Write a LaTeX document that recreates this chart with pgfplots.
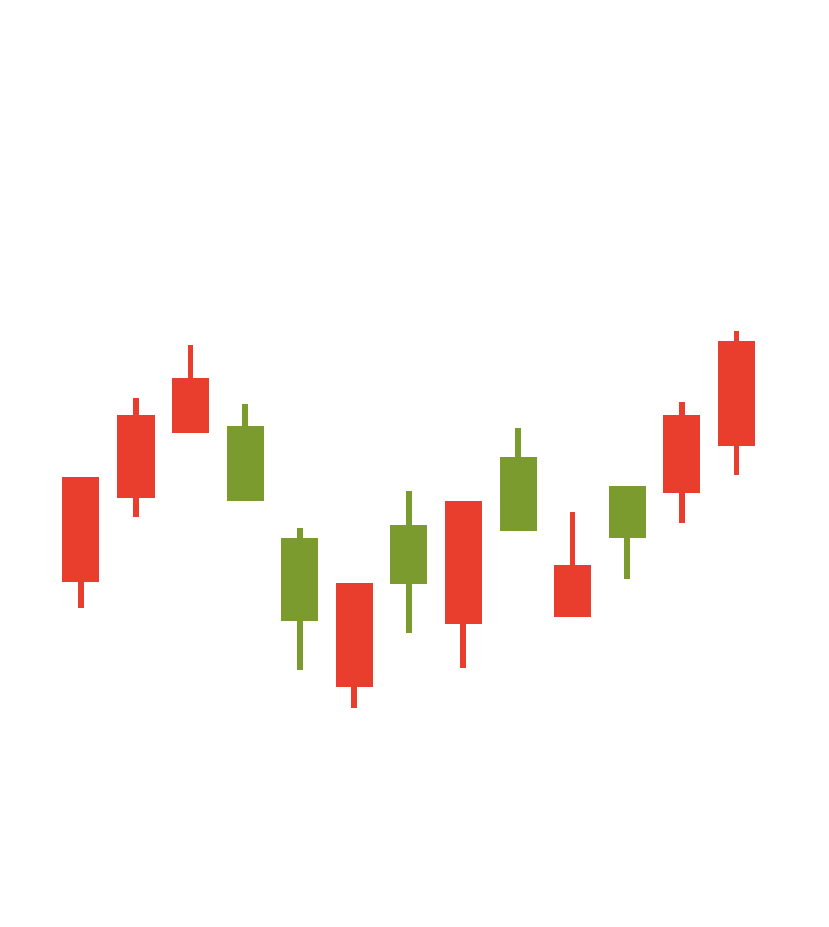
\documentclass[border=0pt]{standalone}
\usepackage{pgfplots}
\pgfplotsset{compat=1.18}
\definecolor{candlered}{HTML}{E93D2E}
\definecolor{candlegreen}{HTML}{7B9B2F}
\begin{document}
% candle positions in picture pixels (y measured downward)
\begin{tikzpicture}
\begin{axis}[
  width=8.28cm, height=9.27cm, scale only axis,
  xmin=0, xmax=828, ymin=0, ymax=927,
  y dir=reverse,
  hide axis, clip=false,
  unbounded coords=jump,
]
% wicks (high to low)
\addplot[candlered, line width=1.62pt, mark=none] table {
x y
80.8 476.7
80.8 608.3
nan nan
136 398.3
136 516.7
nan nan
190.5 345
190.5 433.3
nan nan
354.3 582.7
354.3 708.3
nan nan
463.3 501
463.3 668.3
nan nan
572.5 511.7
572.5 617.3
nan nan
681.8 402.3
681.8 522.7
nan nan
736.5 330.7
736.5 475
};
\addplot[candlegreen, line width=1.62pt, mark=none] table {
x y
245 404.3
245 501.3
nan nan
299.7 528.3
299.7 670
nan nan
408.8 491
408.8 633.3
nan nan
518 428.3
518 531
nan nan
627.3 486
627.3 579.3
};
% bodies (open/close)
\addplot[candlered, line width=10.53pt, mark=none] table {
x y
80.8 476.7
80.8 582.3
nan nan
136 415
136 498.3
nan nan
190.5 377.7
190.5 433.3
nan nan
354.3 582.7
354.3 687.3
nan nan
463.3 501
463.3 623.7
nan nan
572.5 565.3
572.5 617.3
nan nan
681.8 415
681.8 493.3
nan nan
736.5 340.7
736.5 445.7
};
\addplot[candlegreen, line width=10.53pt, mark=none] table {
x y
245 426.3
245 501.3
nan nan
299.7 538.5
299.7 620.7
nan nan
408.8 525.3
408.8 583.7
nan nan
518 457.3
518 531
nan nan
627.3 486
627.3 538.3
};
\end{axis}
\pgfresetboundingbox
\path[use as bounding box] (current axis.south west) rectangle (current axis.north east);
\end{tikzpicture}
\end{document}
